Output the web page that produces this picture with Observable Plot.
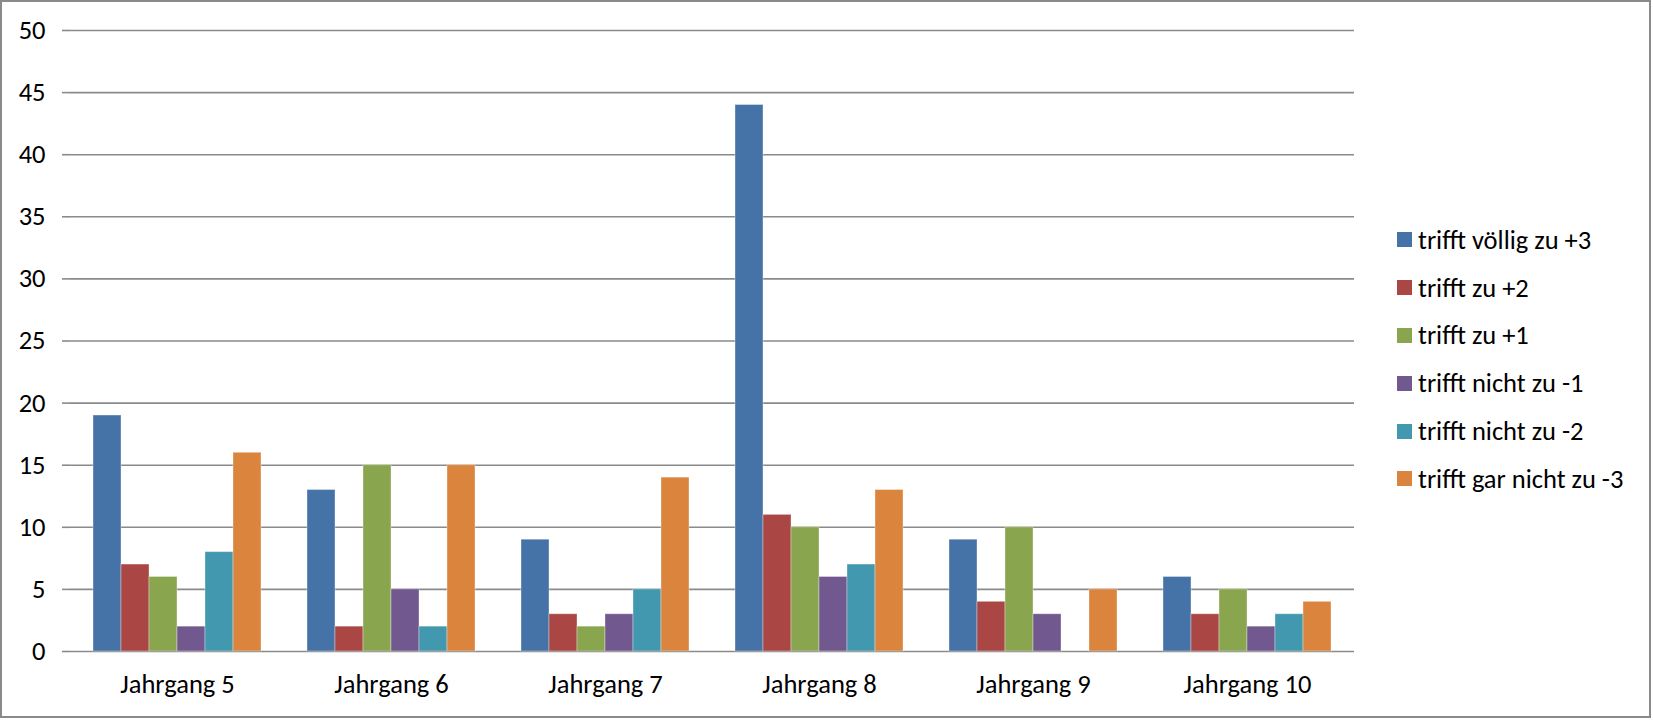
<!DOCTYPE html>
<html>
<head>
<meta charset="utf-8">
<script src="https://cdn.jsdelivr.net/npm/d3@7"></script>
<script src="https://cdn.jsdelivr.net/npm/@observablehq/plot@0.6"></script>
<style>
  body { margin: 0; background: #fff; }
  #chart { position: relative; width: 1653px; height: 720px; font-family: Carlito, Calibri, Lato, sans-serif; color: #000; }
  #chart svg { position: absolute; left: 0; top: 0; }
  #border { position: absolute; left: 0; top: 0; width: 1651px; height: 718px; box-sizing: border-box; border: 2px solid #8a8a8a; pointer-events: none; }
  #legend { position: absolute; left: 1397px; top: 216px; }
  .item { display: flex; align-items: center; height: 47.8px; font-size: 26.5px; white-space: nowrap; }
  .sw { width: 15px; height: 15px; margin-right: 6px; flex: none; }
</style>
</head>
<body>
<div id="chart"><div id="legend"></div><div id="border"></div></div>
<script>
// Categories (school years) and answer series
const jahrgaenge = ["Jahrgang 5", "Jahrgang 6", "Jahrgang 7", "Jahrgang 8", "Jahrgang 9", "Jahrgang 10"];
const serien = [
  "trifft völlig zu +3",
  "trifft zu +2",
  "trifft zu +1",
  "trifft nicht zu -1",
  "trifft nicht zu -2",
  "trifft gar nicht zu -3"
];

// Counts per series, in the order of jahrgaenge
const voelligZu3 = [19, 13, 9, 44, 9, 6];
const zu2 = [7, 2, 3, 11, 4, 3];
const zu1 = [6, 15, 2, 10, 10, 5];
const nichtZu1 = [2, 5, 3, 6, 3, 2];
const nichtZu2 = [8, 2, 5, 7, 0, 3];
const garNichtZu3 = [16, 15, 14, 13, 5, 4];

const yTicks = [0, 5, 10, 15, 20, 25, 30, 35, 40, 45, 50];
const farben = ["#4572A7", "#AA4643", "#89A54E", "#71588F", "#4198AF", "#DB843D"];

const werte = [voelligZu3, zu2, zu1, nichtZu1, nichtZu2, garNichtZu3];
const rows = [];
jahrgaenge.forEach((j, i) => serien.forEach((s, k) => rows.push({jahrgang: j, serie: s, wert: werte[k][i]})));

const width = 1653, height = 720;
const marginLeft = 70, marginRight = 299, marginTop = 30, marginBottom = 69;
const facetW = (width - marginLeft - marginRight) / jahrgaenge.length;
const grau = "#8a8a8a";
const font = "Carlito, Calibri, Lato, sans-serif";

const chart = Plot.plot({
  width, height, marginLeft, marginRight, marginTop, marginBottom,
  style: {fontFamily: font, fontSize: "26.5px", color: "#000", background: "transparent"},
  fx: {domain: jahrgaenge, padding: 0, label: null},
  x: {domain: serien, paddingInner: 0, paddingOuter: 0.75, axis: null},
  y: {domain: [0, 50], label: null},
  color: {domain: serien, range: farben},
  marks: [
    Plot.ruleY(yTicks, {stroke: grau, strokeWidth: 1.6}),
    Plot.barY(rows, {fx: "jahrgang", x: "serie", y: "wert", fill: "serie", stroke: "#fff", strokeOpacity: 0.35, strokeWidth: 1}),
    Plot.axisY({ticks: yTicks, tickSize: 8, tickPadding: 17, stroke: grau, strokeWidth: 1.6, label: null, fontSize: 26.5}),
    Plot.axisFx({anchor: "bottom", tickSize: 0, tickPadding: 23, label: null, fontSize: 26.5}),
    // vertical axis line and category boundary ticks
    Plot.ruleX(jahrgaenge, {fx: (d) => d, y1: (d) => d === jahrgaenge[0] ? 50 : 0, y2: 0, dx: -facetW / 2, insetBottom: -8, stroke: grau, strokeWidth: 1.6}),
    Plot.ruleX(jahrgaenge.slice(-1), {fx: (d) => d, y1: 0, y2: 0, dx: facetW / 2, insetBottom: -8, stroke: grau, strokeWidth: 1.6})
  ]
});
document.getElementById("chart").prepend(chart);

// Legend
const legend = document.getElementById("legend");
serien.forEach((s, k) => {
  const item = document.createElement("div");
  item.className = "item";
  const sw = document.createElement("span");
  sw.className = "sw";
  sw.style.background = farben[k];
  const t = document.createElement("span");
  t.textContent = s;
  item.append(sw, t);
  legend.append(item);
});
</script>
</body>
</html>
